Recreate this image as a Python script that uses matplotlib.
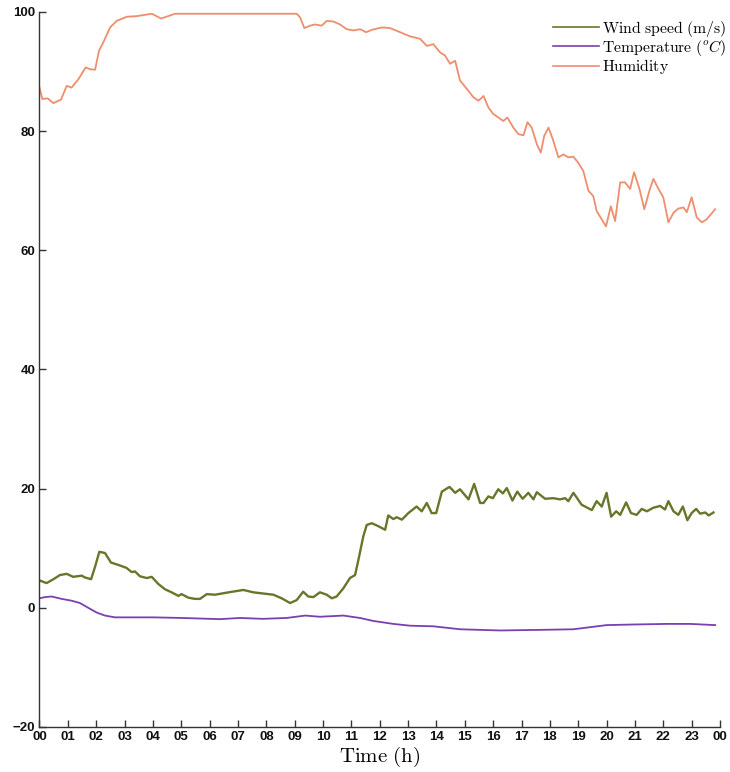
import matplotlib
matplotlib.use("Agg")
import matplotlib.pyplot as plt

plt.rcParams['mathtext.fontset'] = 'cm'

# humidity (%)
hum_t = [0, 0.1, 0.29, 0.49, 0.76, 0.96, 1.13, 1.37, 1.63, 1.78, 1.96, 2.1, 2.25, 2.49,
         2.72, 3.08, 3.43, 3.96, 4.29, 4.78, 9.07, 9.19, 9.34, 9.54, 9.72, 9.95, 10.13,
         10.36, 10.6, 10.84, 11.07, 11.31, 11.52, 11.72, 12.07, 12.36, 12.72, 13.07,
         13.42, 13.66, 13.89, 14.13, 14.3, 14.48, 14.66, 14.83, 15.07, 15.3, 15.48,
         15.66, 15.83, 16.0, 16.18, 16.36, 16.5, 16.71, 16.89, 17.07, 17.21, 17.36,
         17.54, 17.68, 17.8, 17.95, 18.1, 18.3, 18.48, 18.65, 18.83, 19.0, 19.18,
         19.36, 19.53, 19.65, 19.83, 19.98, 20.15, 20.3, 20.48, 20.65, 20.83, 20.97,
         21.16, 21.33, 21.51, 21.65, 21.83, 22.0, 22.18, 22.36, 22.53, 22.71, 22.83,
         23.0, 23.18, 23.36, 23.53, 23.83]
hum_v = [87.3, 85.4, 85.5, 84.7, 85.3, 87.6, 87.3, 88.7, 90.7, 90.4, 90.3, 93.5, 94.9, 97.4,
         98.5, 99.2, 99.3, 99.7, 98.9, 99.7, 99.7, 99.1, 97.3, 97.7, 97.9, 97.7, 98.5,
         98.4, 97.9, 97.1, 96.9, 97.1, 96.6, 97.0, 97.4, 97.3, 96.6, 95.9,
         95.5, 94.3, 94.6, 93.2, 92.7, 91.3, 91.8, 88.5, 87.1, 85.7, 85.1,
         85.9, 84.0, 82.9, 82.3, 81.7, 82.3, 80.6, 79.5, 79.3, 81.5, 80.6,
         77.8, 76.4, 79.2, 80.6, 78.7, 75.6, 76.1, 75.6, 75.7, 74.7, 73.3,
         70.0, 69.1, 66.6, 65.2, 64.0, 67.4, 64.9, 71.4, 71.4, 70.3, 73.1,
         70.3, 66.9, 70.0, 72.0, 70.3, 68.9, 64.7, 66.3, 67.0, 67.2, 66.4,
         68.9, 65.5, 64.7, 65.2, 66.9]

# wind speed (m/s)
wind_t = [0, 0.25, 0.49, 0.72, 0.96, 1.19, 1.49, 1.6, 1.82, 1.96, 2.11, 2.31, 2.52, 2.78,
          3.07, 3.25, 3.37, 3.54, 3.78, 3.96, 4.19, 4.43, 4.66, 4.9, 5.01, 5.25, 5.48,
          5.66, 5.9, 6.19, 6.43, 6.67, 7.19, 7.54, 7.89, 8.25, 8.54, 8.84, 9.07, 9.3,
          9.48, 9.66, 9.89, 10.13, 10.31, 10.48, 10.72, 10.95, 11.13, 11.25, 11.42,
          11.54, 11.72, 11.95, 12.19, 12.3, 12.48, 12.6, 12.78, 13.01, 13.3, 13.48,
          13.66, 13.83, 13.99, 14.19, 14.46, 14.66, 14.83, 15.13, 15.33, 15.54, 15.66,
          15.83, 15.99, 16.18, 16.34, 16.48, 16.68, 16.85, 17.04, 17.24, 17.42, 17.54,
          17.83, 18.12, 18.36, 18.54, 18.65, 18.83, 19.12, 19.48, 19.65, 19.83, 20.0,
          20.16, 20.34, 20.48, 20.69, 20.86, 21.06, 21.24, 21.42, 21.65, 21.89, 22.06,
          22.18, 22.36, 22.53, 22.69, 22.85, 23.0, 23.16, 23.3, 23.48, 23.6, 23.77]
wind_v = [4.6, 4.15, 4.8, 5.5, 5.7, 5.2, 5.4, 5.1, 4.8, 6.9, 9.4, 9.2, 7.6, 7.2,
          6.7, 6.0, 6.1, 5.3, 5.0, 5.2, 4.0, 3.1, 2.6, 2.0, 2.3, 1.7, 1.5,
          1.5, 2.3, 2.2, 2.4, 2.6, 3.0, 2.6, 2.4, 2.2, 1.6, 0.8, 1.3, 2.7,
          1.9, 1.8, 2.6, 2.2, 1.6, 1.9, 3.3, 5.0, 5.5, 8.1, 12.0,
          13.9, 14.2, 13.7, 13.1, 15.5, 14.9, 15.2, 14.8, 15.9, 17.0, 16.2,
          17.6, 15.9, 15.9, 19.5, 20.3, 19.3, 19.9, 18.2, 20.8, 17.6, 17.6,
          18.7, 18.4, 19.9, 19.2, 20.1, 18.0, 19.5, 18.3, 19.3, 18.2, 19.4,
          18.3, 18.4, 18.2, 18.4, 17.9, 19.3, 17.3, 16.4, 17.9, 17.0, 19.3,
          15.3, 16.2, 15.6, 17.7, 15.9, 15.6, 16.6, 16.2, 16.8, 17.1, 16.5,
          17.9, 16.2, 15.6, 17.0, 14.7, 15.9, 16.6, 15.8, 16.0, 15.5, 16.0]

# temperature (deg C)
temp_t = [0, 0.2, 0.43, 0.78, 1.13, 1.43, 1.72, 2.02, 2.31, 2.66, 4.0, 5.0, 6.37, 7.07,
          7.88, 8.72, 9.37, 9.89, 10.72, 11.3, 11.77, 12.48, 13.07, 13.89, 14.83,
          16.24, 17.65, 18.83, 20.0, 20.95, 22.12, 22.95, 23.83]
temp_v = [1.6, 1.8, 1.9, 1.5, 1.2, 0.8, 0.0, -0.8, -1.3, -1.6, -1.6, -1.7, -1.9, -1.7,
          -1.85, -1.7, -1.3, -1.5, -1.3, -1.7, -2.2, -2.7, -3.0, -3.1, -3.6,
          -3.8, -3.7, -3.6, -2.9, -2.8, -2.7, -2.7, -2.9]

hour_labels = ['%02d' % (h % 24) for h in range(25)]

fig = plt.figure(figsize=(7.3, 7.72), dpi=100)
ax = fig.add_axes([0.0541, 0.0583, 0.9322, 0.9262])

ax.plot(wind_t, wind_v, color='#66772b', lw=1.7,
        label=r'$\mathrm{Wind\ speed\ (m/s)}$')
ax.plot(temp_t, temp_v, color='#7a3fb0', lw=1.3,
        label=r'$\mathrm{Temperature\ (}^oC\mathrm{)}$')
ax.plot(hum_t, hum_v, color='#ef8e6e', lw=1.3,
        label=r'$\mathrm{Humidity}$')

ax.set_xlim(0, 24)
ax.set_ylim(-20, 100)
ax.set_xticks(range(25))
ax.set_xticklabels(hour_labels)
ax.set_yticks(range(-20, 101, 20))

for s in ['top', 'right']:
    ax.spines[s].set_visible(False)
for s in ['left', 'bottom']:
    ax.spines[s].set_color('#333333')
    ax.spines[s].set_linewidth(1.0)

ax.tick_params(direction='in', length=5, width=1, color='#333333', pad=3)
for lab in ax.get_xticklabels() + ax.get_yticklabels():
    lab.set_family('Liberation Sans')
    lab.set_weight('bold')
    lab.set_fontsize(9.5)
    lab.set_color('#111111')

ax.set_xlabel(r'$\mathrm{Time\ (h)}$', fontsize=15, labelpad=1)

leg = ax.legend(loc='upper left', bbox_to_anchor=(0.757, 0.976),
                bbox_transform=fig.transFigure, frameon=False, fontsize=11.3,
                handlelength=2.95, handletextpad=0.2, labelspacing=-0.04,
                borderpad=0, borderaxespad=0)
for line in leg.get_lines():
    line.set_linewidth(1.2)

fig.savefig('out.png', dpi=100)
